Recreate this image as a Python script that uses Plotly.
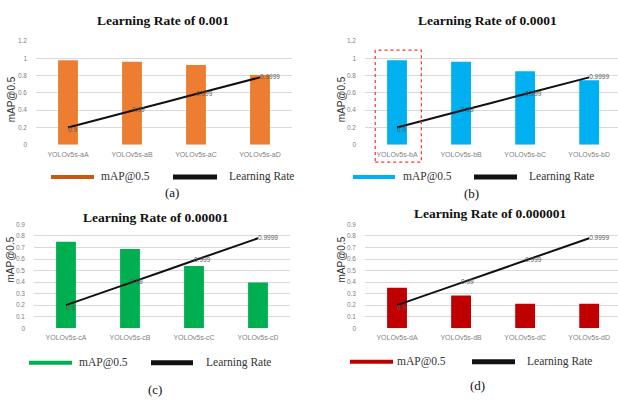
import math
import plotly.graph_objects as go

# ---- data -------------------------------------------------------------
categories_a = ["YOLOv5s-aA", "YOLOv5s-aB", "YOLOv5s-aC", "YOLOv5s-aD"]
categories_b = ["YOLOv5s-bA", "YOLOv5s-bB", "YOLOv5s-bC", "YOLOv5s-bD"]
categories_c = ["YOLOv5s-cA", "YOLOv5s-cB", "YOLOv5s-cC", "YOLOv5s-cD"]
categories_d = ["YOLOv5s-dA", "YOLOv5s-dB", "YOLOv5s-dC", "YOLOv5s-dD"]

map_a = [0.977, 0.961, 0.924, 0.806]
map_b = [0.977, 0.961, 0.852, 0.746]
map_c = [0.750, 0.687, 0.539, 0.397]
map_d = [0.352, 0.284, 0.213, 0.213]

lr_values = [0.9, 0.99, 0.999, 0.9999]
lr_labels = ["0.9", "0.99", "0.999", "0.9999"]

titles = ["Learning Rate of 0.001", "Learning Rate of 0.0001",
          "Learning Rate of 0.00001", "Learning Rate of 0.000001"]
panel_tags = ["(a)", "(b)", "(c)", "(d)"]
y_max = [1.2, 1.2, 0.9, 0.9]
y_step = [0.2, 0.2, 0.1, 0.1]

# ---- styling / geometry (pixels on a 618x402 page) --------------------
W, H = 618, 402
bar_colors = ["#ED7D31", "#00B0F0", "#00B050", "#C00000"]
legend_colors = ["#C55A11", "#00B0F0", "#00B050", "#C00000"]

panels = [
    dict(x0=36, x1=292, xr=[-0.5, 3.5], ybot=143.3, ytop=37.7,
         title=(163, 17), tag=(172, 192), ytitle=(11, 97),
         leg=dict(y=176, b0=51, b1=94, t1=99, l0=173, l1=217, t2=227)),
    dict(x0=365, x1=618, xr=[-0.5, 3.45], ybot=143.3, ytop=37.7,
         title=(487, 17), tag=(471, 193), ytitle=(341, 97),
         leg=dict(y=176, b0=353, b1=395, t1=401, l0=474, l1=517, t2=527)),
    dict(x0=34, x1=290, xr=[-0.5, 3.5], ybot=330, ytop=224.3,
         title=(156, 217), tag=(155, 392), ytitle=(10, 260),
         leg=dict(y=365, b0=29, b1=72, t1=77, l0=151, l1=193, t2=204)),
    dict(x0=365, x1=618, xr=[-0.5, 3.45], ybot=330, ytop=224.3,
         title=(490, 213), tag=(477, 388), ytitle=(341, 260),
         leg=dict(y=364, b0=350, b1=393, t1=395, l0=472, l1=515, t2=525)),
]


def fx(px):
    return px / W


def fy(py):
    return 1 - py / H


# The learning-rate curve sits on a hidden secondary axis measured in
# "number of nines" (0.9 -> 1, 0.99 -> 2, ...).
nines = [-math.log10(1 - v) for v in lr_values]
LINE_LOW, LINE_HIGH = 0.2, 0.78          # primary-axis heights of first/last point
slope = (LINE_HIGH - LINE_LOW) / 3.0


def nines_at(y1):
    return 1 + (y1 - LINE_LOW) / slope


fig = go.Figure()
cats_all = [categories_a, categories_b, categories_c, categories_d]
maps_all = [map_a, map_b, map_c, map_d]

layout = dict(
    width=W, height=H,
    margin=dict(l=0, r=0, t=0, b=0),
    paper_bgcolor="white", plot_bgcolor="white",
    showlegend=False,
    font=dict(family="Liberation Sans", color="#595959"),
)
annotations = []
shapes = []

for i, p in enumerate(panels):
    k = i + 1
    ov = i + 5
    xa = "x" if k == 1 else f"x{k}"
    ya = "y" if k == 1 else f"y{k}"
    yo = f"y{ov}"

    fig.add_trace(go.Bar(
        x=cats_all[i], y=maps_all[i], width=0.31,
        marker=dict(color=bar_colors[i], line=dict(width=0)),
        xaxis=xa, yaxis=ya, name="mAP@0.5",
    ))
    fig.add_trace(go.Scatter(
        x=cats_all[i], y=nines, text=lr_labels,
        mode="lines+text",
        textposition=["bottom right", "middle right", "middle right", "middle right"],
        textfont=dict(size=6.5, color="#595959", family="Liberation Sans"),
        line=dict(color="#111111", width=2, shape="spline"),
        xaxis=xa, yaxis=yo, name="Learning Rate", cliponaxis=False,
    ))

    dom_y = [fy(p["ybot"]), fy(p["ytop"])]
    layout[f"xaxis{k}" if k > 1 else "xaxis"] = dict(
        domain=[fx(p["x0"]), fx(p["x1"])], anchor=ya,
        type="category", range=p["xr"], showgrid=False, showline=False,
        zeroline=False, ticks="", ticklabelstandoff=4,
        tickfont=dict(size=7, color="#7f7f7f", family="Liberation Sans"),
    )
    layout[f"yaxis{k}" if k > 1 else "yaxis"] = dict(
        domain=dom_y, anchor=xa, range=[0, y_max[i]], dtick=y_step[i],
        tick0=0, showgrid=True, gridcolor="#d9d9d9", gridwidth=1,
        zeroline=False, showline=False, ticks="", ticklabelstandoff=8,
        tickfont=dict(size=6.5, color="#7f7f7f", family="Liberation Sans"),
    )
    layout[f"yaxis{ov}"] = dict(
        overlaying=ya, anchor=xa, side="right", visible=False,
        range=[nines_at(0), nines_at(y_max[i])],
    )

    # panel title, y-axis title, panel tag
    annotations.append(dict(
        x=fx(p["title"][0]), y=fy(p["title"][1]), xref="paper", yref="paper",
        text=f"<b>{titles[i]}</b>", showarrow=False,
        font=dict(family="Liberation Serif", size=13.5, color="#111111"),
        xanchor="center", yanchor="middle"))
    annotations.append(dict(
        x=fx(p["ytitle"][0]), y=fy(p["ytitle"][1]), xref="paper", yref="paper",
        text="mAP@0.5", textangle=-90, showarrow=False,
        font=dict(family="Liberation Sans", size=10, color="#333333"),
        xanchor="center", yanchor="middle"))
    annotations.append(dict(
        x=fx(p["tag"][0]), y=fy(p["tag"][1]), xref="paper", yref="paper",
        text=panel_tags[i], showarrow=False,
        font=dict(family="Liberation Serif", size=13, color="#111111"),
        xanchor="center", yanchor="middle"))

    # legend keys and labels
    lg = p["leg"]
    shapes.append(dict(type="line", xref="paper", yref="paper",
                       x0=fx(lg["b0"]), x1=fx(lg["b1"]), y0=fy(lg["y"]), y1=fy(lg["y"]),
                       line=dict(color=legend_colors[i], width=4)))
    shapes.append(dict(type="line", xref="paper", yref="paper",
                       x0=fx(lg["l0"]), x1=fx(lg["l1"]), y0=fy(lg["y"]), y1=fy(lg["y"]),
                       line=dict(color="#111111", width=5)))
    annotations.append(dict(
        x=fx(lg["t1"]), y=fy(lg["y"]), xref="paper", yref="paper",
        text="mAP@0.5", showarrow=False, xanchor="left", yanchor="middle",
        font=dict(family="Liberation Serif", size=11.5, color="#333333")))
    annotations.append(dict(
        x=fx(lg["t2"]), y=fy(lg["y"]), xref="paper", yref="paper",
        text="Learning Rate", showarrow=False, xanchor="left", yanchor="middle",
        font=dict(family="Liberation Serif", size=11.5, color="#333333")))

# dotted highlight around the first model of panel (b)
shapes.append(dict(type="rect", xref="x2", yref="paper",
                   x0=-0.34, x1=0.38, y0=fy(161), y1=fy(47),
                   line=dict(color="#FF3030", width=1.2, dash="dot")))

layout["annotations"] = annotations
layout["shapes"] = shapes
fig.update_layout(**layout)
fig.write_html("out.html")
